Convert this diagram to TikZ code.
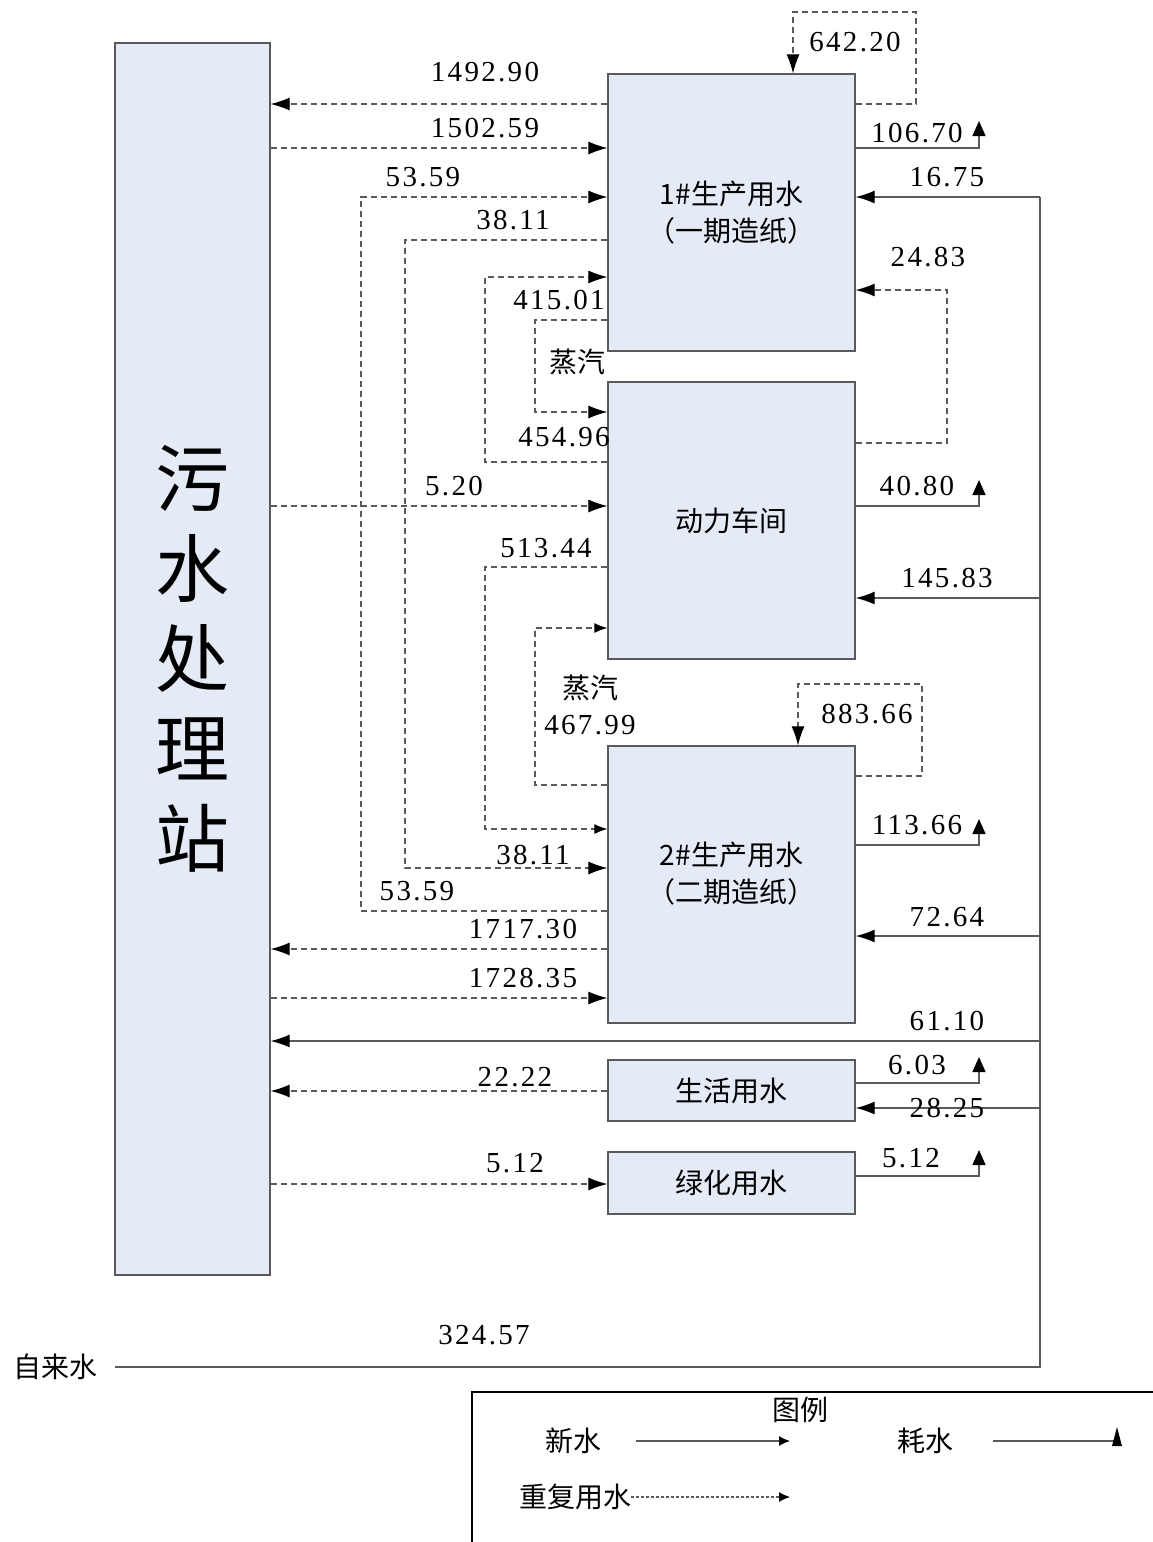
\documentclass[tikz,border=0pt]{standalone}
\usepackage{fontspec}
\setmainfont{Liberation Serif}
\newfontfamily\numfont[LetterSpace=8]{Liberation Serif}
\newfontfamily\cjk{Noto Sans CJK SC}
\usetikzlibrary{arrows.meta}
\definecolor{boxfill}{HTML}{E4EBF6}
\definecolor{ln}{HTML}{5A5A5A}
\tikzset{
  box/.style={draw=ln, fill=boxfill, line width=1.3pt, inner sep=0pt, font=\cjk\fontsize{28}{37}\selectfont, align=center},
  dline/.style={draw=ln, line width=1.1pt, dash pattern=on 6pt off 4pt},
  sline/.style={draw=ln, line width=1.3pt},
  big/.style={-{Latex[length=19pt,width=13pt,color=black]}},
  small/.style={-{Latex[length=13pt,width=10pt,color=black]}},
  upt/.style={-{Triangle[length=15pt,width=13pt,color=black]}},
  num/.style={font=\numfont\fontsize{29}{29}\selectfont, inner sep=0pt},
  cn/.style={font=\cjk\fontsize{28}{28}\selectfont, inner sep=0pt}
}
\begin{document}
\begin{tikzpicture}[x=1pt,y=-1pt]
\useasboundingbox (0,0) rectangle (1153,1542);
% boxes
\node[box, minimum width=155pt, minimum height=1232pt, font=\cjk\fontsize{74}{90}\selectfont] (wt) at (192.5,659) {污\\水\\处\\理\\站};
\node[box, minimum width=247pt, minimum height=277pt] (b1) at (731.5,212.5) {1\#生产用水\\（一期造纸）};
\node[box, minimum width=247pt, minimum height=277pt] (pw) at (731.5,520.5) {动力车间};
\node[box, minimum width=247pt, minimum height=277pt] (b2) at (731.5,884.5) {2\#生产用水\\（二期造纸）\\[-13pt]};
\node[box, minimum width=247pt, minimum height=61pt] (sh) at (731.5,1090.5) {生活用水};
\node[box, minimum width=247pt, minimum height=62pt] (lh) at (731.5,1183) {绿化用水};
\node[cn] (zls) at (55,1367) {自来水};
\coordinate (tap) at (1040,1367);

% left side connectors
\draw[dline,big] (b1.west |- 0,104) -- (wt.east |- 0,104);
\draw[dline,big] (wt.east |- 0,148) -- (b1.west |- 0,148);
\draw[dline,big] (b2.west |- 0,911) -- (361,911) -- (361,197) -- (b1.west |- 0,197);
\draw[dline,big] (b1.west |- 0,240) -- (405,240) -- (405,868) -- (b2.west |- 0,868);
\draw[dline,big] (pw.west |- 0,462) -- (485,462) -- (485,277) -- (b1.west |- 0,277);
\draw[dline,big] (b1.west |- 0,320) -- (535,320) -- (535,412) -- (pw.west |- 0,412);
\draw[dline,big] (wt.east |- 0,506) -- (pw.west |- 0,506);
\draw[dline,small] (pw.west |- 0,567) -- (485,567) -- (485,829) -- (b2.west |- 0,829);
\draw[dline,small] (b2.west |- 0,785) -- (535,785) -- (535,628) -- (pw.west |- 0,628);
\draw[dline,big] (b2.west |- 0,949) -- (wt.east |- 0,949);
\draw[dline,big] (wt.east |- 0,998) -- (b2.west |- 0,998);
\draw[sline,big] (tap |- 0,1041) -- (wt.east |- 0,1041);
\draw[dline,big] (sh.west |- 0,1091) -- (wt.east |- 0,1091);
\draw[dline,big] (wt.east |- 0,1184) -- (lh.west |- 0,1184);

% right side connectors
\draw[dline,big] (b1.east |- 0,104) -- (916,104) -- (916,12) -- (793,12) -- (b1.north -| 793,0);
\draw[sline,upt] (b1.east |- 0,148) -- (979,148) -- (979,121);
\draw[sline] ([xshift=18pt]zls.east) -- (tap) -- (1040,197);
\draw[sline,big] (tap |- 0,197) -- (b1.east |- 0,197);
\draw[dline,big] (pw.east |- 0,443) -- (947,443) -- (947,290) -- (b1.east |- 0,290);
\draw[sline,upt] (pw.east |- 0,506) -- (979,506) -- (979,480);
\draw[sline,big] (tap |- 0,598) -- (pw.east |- 0,598);
\draw[dline,big] (b2.east |- 0,776) -- (922,776) -- (922,684) -- (798,684) -- (b2.north -| 798,0);
\draw[sline,upt] (b2.east |- 0,845) -- (979,845) -- (979,819);
\draw[sline,big] (tap |- 0,936) -- (b2.east |- 0,936);
\draw[sline,upt] (sh.east |- 0,1083) -- (979,1083) -- (979,1057);
\draw[sline,big] (tap |- 0,1108) -- (sh.east |- 0,1108);
\draw[sline,upt] (lh.east |- 0,1176) -- (979,1176) -- (979,1150);

% labels
\node[num] (l1) at (855,42) {642.20};
\node[num] (l2) at (485,72) {1492.90};
\node[num] (l3) at (485,128) {1502.59};
\node[num] (l4) at (917,133) {106.70};
\node[num] (l5) at (423,177) {53.59};
\node[num] (l6) at (947,177) {16.75};
\node[num] (l7) at (513,220) {38.11};
\node[num] (l8) at (928,257) {24.83};
\node[num] (l9) at (559,300) {415.01};
\node[cn] (l10) at (577,362) {蒸汽};
\node[num] (l11) at (564,437) {454.96};
\node[num] (l12) at (454,486) {5.20};
\node[num] (l13) at (917,486) {40.80};
\node[num] (l14) at (546,548) {513.44};
\node[num] (l15) at (947,578) {145.83};
\node[cn] (l16) at (590,688) {蒸汽};
\node[num] (l17) at (590,725) {467.99};
\node[num] (l18) at (867,714) {883.66};
\node[num] (l19) at (917,825) {113.66};
\node[num] (l20) at (533,855) {38.11};
\node[num] (l21) at (417,891) {53.59};
\node[num] (l22) at (947,917) {72.64};
\node[num] (l23) at (523,929) {1717.30};
\node[num] (l24) at (523,978) {1728.35};
\node[num] (l25) at (947,1021) {61.10};
\node[num] (l26) at (917,1065) {6.03};
\node[num] (l27) at (515,1077) {22.22};
\node[num] (l28) at (947,1108) {28.25};
\node[num] (l29) at (515,1163) {5.12};
\node[num] (l30) at (911,1158) {5.12};
\node[num] (l31) at (484,1335) {324.57};

% legend
\draw[black, line width=1.6pt] (472,1542) -- (472,1392) -- (1153,1392);
\node[cn] (lg) at (800,1410) {图例};
\node[cn] (xs) at (573,1441) {新水};
\node[cn] (hs) at (925,1441) {耗水};
\node[cn] (cf) at (575,1497) {重复用水};
\draw[sline,-{Latex[length=11pt,width=10pt,color=black]}] (636,1441) -- (790,1441);
\draw[dline,dash pattern=on 3pt off 2pt,-{Latex[length=11pt,width=10pt,color=black]}] (cf.east) -- (790,1497);
\draw[sline] (993,1441) -- (1117,1441);
\fill[black] (1112,1446) -- (1117,1427) -- (1122,1446) -- cycle;
\end{tikzpicture}
\end{document}
